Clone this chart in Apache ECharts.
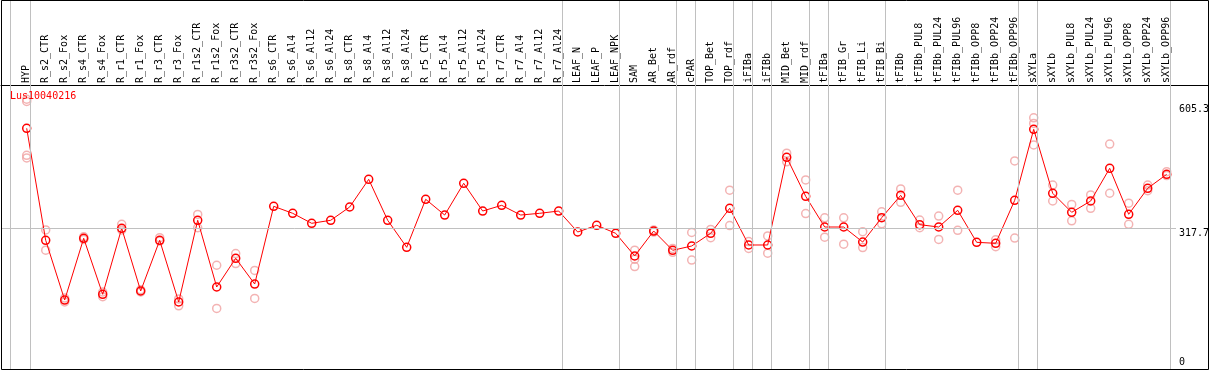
<!DOCTYPE html>
<html>
<head>
<meta charset="utf-8">
<script src="https://cdn.jsdelivr.net/npm/echarts@6/dist/echarts.min.js"></script>
<style>
  html, body { margin: 0; padding: 0; background: #fff; }
  #chart { width: 1209px; height: 370px; }
</style>
</head>
<body>
<div id="chart"></div>
<script>
    // sample names, left to right
    const samples = [
        'HYP', 'R_s2_CTR', 'R_s2_Fox', 'R_s4_CTR', 'R_s4_Fox', 'R_r1_CTR', 'R_r1_Fox', 'R_r3_CTR', 'R_r3_Fox',
        'R_r1s2_CTR', 'R_r1s2_Fox', 'R_r3s2_CTR', 'R_r3s2_Fox', 'R_s6_CTR', 'R_s6_Al4', 'R_s6_Al12', 'R_s6_Al24',
        'R_s8_CTR', 'R_s8_Al4', 'R_s8_Al12', 'R_s8_Al24', 'R_r5_CTR', 'R_r5_Al4', 'R_r5_Al12', 'R_r5_Al24',
        'R_r7_CTR', 'R_r7_Al4', 'R_r7_Al12', 'R_r7_Al24', 'LEAF_N', 'LEAF_P', 'LEAF_NPK', 'SAM', 'AR_Bet', 'AR_rdf',
        'cPAR', 'TOP_Bet', 'TOP_rdf', 'iFIBa', 'iFIBb', 'MID_Bet', 'MID_rdf', 'tFIBa', 'tFIB_Gr', 'tFIB_Li', 'tFIB_Bi',
        'tFIBb', 'tFIBb_PUL8', 'tFIBb_PUL24', 'tFIBb_PUL96', 'tFIBb_OPP8', 'tFIBb_OPP24', 'tFIBb_OPP96',
        'sXYLa', 'sXYLb', 'sXYLb_PUL8', 'sXYLb_PUL24', 'sXYLb_PUL96', 'sXYLb_OPP8', 'sXYLb_OPP24', 'sXYLb_OPP96'
    ];

    // mean expression of each sample
    const means = [
        549.6, 289.9, 151.4, 294.5, 164.6, 317.7, 172.3, 289.9, 146.8, 336.3,
        181.6, 248.1, 188.5, 368.7, 352.5, 329.3, 336.3, 367.1, 431.3, 336.3,
        273.6, 385.0, 348.5, 422.1, 357.8, 371.0, 348.5, 352.5, 357.8, 309.1,
        324.7, 306.1, 253.5, 311.4, 266.7, 276.7, 306.1, 364.1, 279.0, 279.0,
        482.4, 391.9, 320.7, 320.7, 285.9, 342.3, 394.2, 326.1, 320.7, 359.4,
        285.2, 282.9, 382.6, 547.3, 398.9, 354.8, 381.0, 456.8, 350.2, 410.5,
        442.9
    ];

    // single replicates (only those that show apart from the mean)
    const replicates = [
        [617, 612, 487, 481], [314, 267], [156, 147], [298, 292], [170, 159], [327, 314], [175, 170], [296, 288],
        [154, 138], [350, 319], [232, 132], [259, 236], [220, 155],
        [], [], [], [], [], [], [], [], [], [], [], [], [], [], [], [], [], [], [],
        [267, 246, 229], [314, 309], [271, 262], [308, 244], [315, 296], [406, 324], [287, 271], [300, 260],
        [492, 472], [430, 352], [342, 297], [342, 281], [310, 273], [356, 328], [409, 378], [337, 319],
        [346, 292], [406, 313], [], [291, 275], [474, 295], [574, 561, 511], [418, 381], [373, 335],
        [395, 364], [513, 399], [376, 327], [418, 405], [449, 440]
    ];

    // last sample of each tissue group
    const groupEnds = [0, 28, 31, 34, 35, 37, 38, 39, 41, 42, 45, 52, 53, 60];

    const topLabels = [317.7, 605.3];
    const bottomLabels = [0];
    const refLine = 317.7;
    const geneName = 'Lus10040216';

    // page layout (pixels)
    const plotLeft = 1, plotRight = 1208, plotTop = 0, plotBottom = 369, axisY = 85;
    const firstX = 26.7, step = 19;
    const zeroY = 365.3, pxPerUnit = 0.4312;
    const refLineEnd = 1176, boxLeft = 10.5, sepOffset = 4;

    const xMin = (plotLeft - firstX) / step;
    const xMax = (plotRight - firstX) / step;
    const yMin = -(plotBottom - zeroY) / pxPerUnit;
    const yMax = (zeroY - plotTop) / pxPerUnit;

    const font = 'DejaVu Sans Mono';

    let repData = [];
    replicates.forEach(function (list, i) {
        list.forEach(v => repData.push([i, v]));
    });

    let sepLines = [{ xAxis: (boxLeft - firstX) / step }];
    groupEnds.forEach(i => sepLines.push({ xAxis: i + sepOffset / step }));
    sepLines.push([
        { coord: [xMin, refLine] },
        { coord: [(refLineEnd - firstX) / step, refLine] }
    ]);

    const chart = echarts.init(document.getElementById('chart'));

    const gridBox = {
        left: plotLeft, right: 1209 - plotRight, top: plotTop, bottom: 370 - plotBottom,
        containLabel: false, outerBoundsMode: 'none'
    };

    chart.setOption({
        animation: false,
        backgroundColor: '#fff',
        title: {
            text: geneName,
            left: 10,
            top: 91,
            padding: 0,
            textStyle: { color: '#ff0000', fontSize: 10, fontWeight: 'normal', fontFamily: font }
        },
        grid: [Object.assign({}, gridBox), Object.assign({}, gridBox)],
        xAxis: [{
            type: 'value',
            gridIndex: 0,
            position: 'top',
            offset: -axisY,
            min: xMin,
            max: xMax,
            axisLine: { show: true, onZero: false, lineStyle: { color: '#000', width: 1 } },
            axisTick: { show: false },
            splitLine: { show: false },
            axisLabel: {
                customValues: samples.map((s, i) => i),
                formatter: v => samples[Math.round(v)],
                rotate: -90,
                margin: 2,
                fontSize: 10,
                fontFamily: font,
                color: '#000'
            }
        }, {
            type: 'value',
            gridIndex: 1,
            min: xMin,
            max: xMax,
            show: false
        }],
        yAxis: [{
            type: 'value',
            gridIndex: 0,
            position: 'right',
            min: yMin,
            max: yMax,
            axisLine: { show: false, onZero: false },
            axisTick: { show: false },
            splitLine: { show: false },
            axisLabel: {
                customValues: topLabels,
                inside: true,
                align: 'left',
                verticalAlign: 'top',
                margin: 29,
                fontSize: 10,
                lineHeight: 10,
                fontFamily: font,
                color: '#000'
            }
        }, {
            type: 'value',
            gridIndex: 1,
            position: 'right',
            min: yMin,
            max: yMax,
            axisLine: { show: false, onZero: false },
            axisTick: { show: false },
            splitLine: { show: false },
            axisLabel: {
                customValues: bottomLabels,
                inside: true,
                align: 'left',
                verticalAlign: 'bottom',
                margin: 29,
                fontSize: 10,
                lineHeight: 6,
                fontFamily: font,
                color: '#000'
            }
        }],
        series: [{
            // group separators and reference line
            type: 'line',
            data: [],
            z: 1,
            silent: true,
            markLine: {
                silent: true,
                symbol: 'none',
                animation: false,
                label: { show: false },
                emphasis: { disabled: true },
                lineStyle: { color: '#c0c0c0', width: 1, type: 'solid' },
                data: sepLines
            }
        }, {
            type: 'scatter',
            z: 2,
            silent: true,
            symbol: 'circle',
            symbolSize: 8,
            itemStyle: { color: 'rgba(0,0,0,0)', borderColor: '#f0a0a0', borderWidth: 1.5 },
            data: repData
        }, {
            type: 'line',
            z: 3,
            silent: true,
            symbol: 'circle',
            symbolSize: 8,
            showAllSymbol: true,
            lineStyle: { color: '#ff0000', width: 1 },
            itemStyle: { color: 'rgba(0,0,0,0)', borderColor: '#ff0000', borderWidth: 1.5 },
            data: means.map((v, i) => [i, v])
        }],
        graphic: [{
            type: 'rect',
            z: 100,
            silent: true,
            shape: { x: 1.5, y: 0.5, width: 1207, height: 369 },
            style: { fill: null, stroke: '#000', lineWidth: 1 }
        }]
    });
</script>
</body>
</html>
